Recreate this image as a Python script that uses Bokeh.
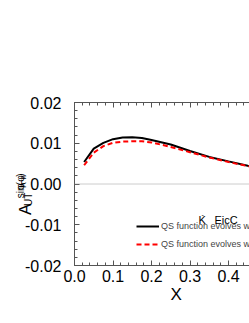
import math
from bokeh.plotting import figure
from bokeh.layouts import row
from bokeh.models import (Range1d, LinearAxis, SingleIntervalTicker, PrintfTickFormatter,
                          CustomJSTickFormatter, Span, Label, Legend, LegendItem)
from bokeh.embed import file_html
from bokeh.resources import INLINE

# ---- data ----
x_vals = [0.025, 0.05, 0.075, 0.1, 0.125, 0.15, 0.175, 0.2, 0.25, 0.3, 0.35, 0.4, 0.45, 0.5]
qs_black = [0.0054, 0.0087, 0.0101, 0.0110, 0.0114, 0.01145, 0.0113, 0.0108, 0.0097, 0.0081,
            0.00665, 0.00555, 0.00447, 0.0036]
qs_red = [0.0046, 0.0077, 0.0093, 0.0101, 0.0104, 0.0105, 0.0105, 0.0102, 0.0091, 0.0078,
          0.0065, 0.0054, 0.0044, 0.0036]
legend_labels = ["QS function evolves w", "QS function evolves w"]
x_tick_interval = 0.1
y_tick_interval = 0.01

FONT = "Liberation Sans"
W, H = 249, 315
BL, BT, BB = 74, 102, 50
x_end = (W - BL) / 385.0

p = figure(width=W, height=H, output_backend="svg", toolbar_location=None,
           x_range=Range1d(0, x_end), y_range=Range1d(-0.02, 0.02),
           x_axis_location=None, y_axis_location=None,
           min_border_left=BL, min_border_right=0, min_border_top=BT, min_border_bottom=BB)
p.grid.visible = False
p.outline_line_color = None
p.background_fill_color = None
p.border_fill_color = None
p.margin = (0, 0, 0, -W)

AX = "#555555"


def style_axis(ax):
    ax.axis_line_color = AX
    ax.major_tick_line_color = AX
    ax.minor_tick_line_color = AX
    ax.major_tick_in = 5
    ax.major_tick_out = 0
    ax.minor_tick_in = 3
    ax.minor_tick_out = 0
    ax.major_label_text_font = FONT
    ax.major_label_text_font_size = "16px"
    ax.major_label_text_color = "black"


bottom = LinearAxis(ticker=SingleIntervalTicker(interval=x_tick_interval, num_minor_ticks=5),
                    formatter=PrintfTickFormatter(format="%.1f"), major_label_standoff=4)
style_axis(bottom)
p.add_layout(bottom, "below")

top = LinearAxis(ticker=SingleIntervalTicker(interval=x_tick_interval, num_minor_ticks=5),
                 formatter=CustomJSTickFormatter(code="return ''"))
style_axis(top)
p.add_layout(top, "above")

left = LinearAxis(ticker=SingleIntervalTicker(interval=y_tick_interval, num_minor_ticks=5),
                  formatter=PrintfTickFormatter(format="%.2f"), major_label_standoff=13)
style_axis(left)
p.add_layout(left, "left")

p.add_layout(Span(location=0, dimension="width", line_color="#999999", line_dash="1 1", line_width=1))

r1 = p.line(x_vals, qs_black, line_color="black", line_width=2)
r2 = p.line(x_vals, qs_red, line_color="red", line_width=2, line_dash="5 3")

legend = Legend(items=[LegendItem(label=legend_labels[0], renderers=[r1]),
                       LegendItem(label=legend_labels[1], renderers=[r2])],
                location=(62, 12), padding=0, spacing=0, margin=0,
                glyph_width=23, glyph_height=18, label_standoff=2,
                label_text_font=FONT, label_text_font_size="9px", label_height=18,
                border_line_color=None, background_fill_alpha=0)
p.add_layout(legend)


# page-pixel -> data helpers for text placement in the main figure
def dx(px):
    return (px - BL) / 385.0


def dy(py):
    return 0.02 - (py - BT) / 4075.0


def lab(fig, text, x, y, size, angle=0.0, place=None):
    l = Label(x=x, y=y, text=text, angle=angle,
              text_font=FONT, text_font_size=f"{size}px", text_color="black",
              text_baseline="alphabetic", text_align="left")
    if place is None:
        fig.add_layout(l)
    else:
        fig.add_layout(l, place)


# x-axis title (side-panel label: not clipped to the frame)
lab(p, "X", dx(170), dy(293.5), 17, 0.0, "above")

# legend header
lab(p, "K", dx(198), dy(219), 11)
lab(p, "-", dx(201), dy(213.7), 7)
lab(p, "EicC", dx(214), dy(219), 11)

# full-size underlay figure for the rotated y-axis title (x = page px, y = H - page px)
t = figure(width=W, height=H, output_backend="svg", toolbar_location=None,
           x_range=Range1d(0, W), y_range=Range1d(0, H),
           x_axis_location=None, y_axis_location=None,
           min_border_left=0, min_border_right=0, min_border_top=0, min_border_bottom=0)
t.grid.visible = False
t.outline_line_color = None
t.background_fill_color = "white"
t.border_fill_color = "white"


def ty(py):
    return H - py


R = math.pi / 2
# A_UT^{sin(phi_h - phi_s)}
lab(t, "A", 24.5, ty(217.5), 17, R)
lab(t, "UT", 27.5, ty(200), 10, R)
lab(t, "sin(", 20, ty(185), 10, R)
lab(t, "φ", 20, ty(168.9), 10, R)
lab(t, "h", 22, ty(162.9), 7, R)
lab(t, "−", 20, ty(159), 10, R)
lab(t, "φ", 20, ty(153.2), 10, R)
lab(t, "s", 22, ty(147.2), 7, R)
lab(t, ")", 20, ty(143.7), 10, R)

layout = row(t, p)
open("out.html", "w").write(file_html(layout, INLINE))
